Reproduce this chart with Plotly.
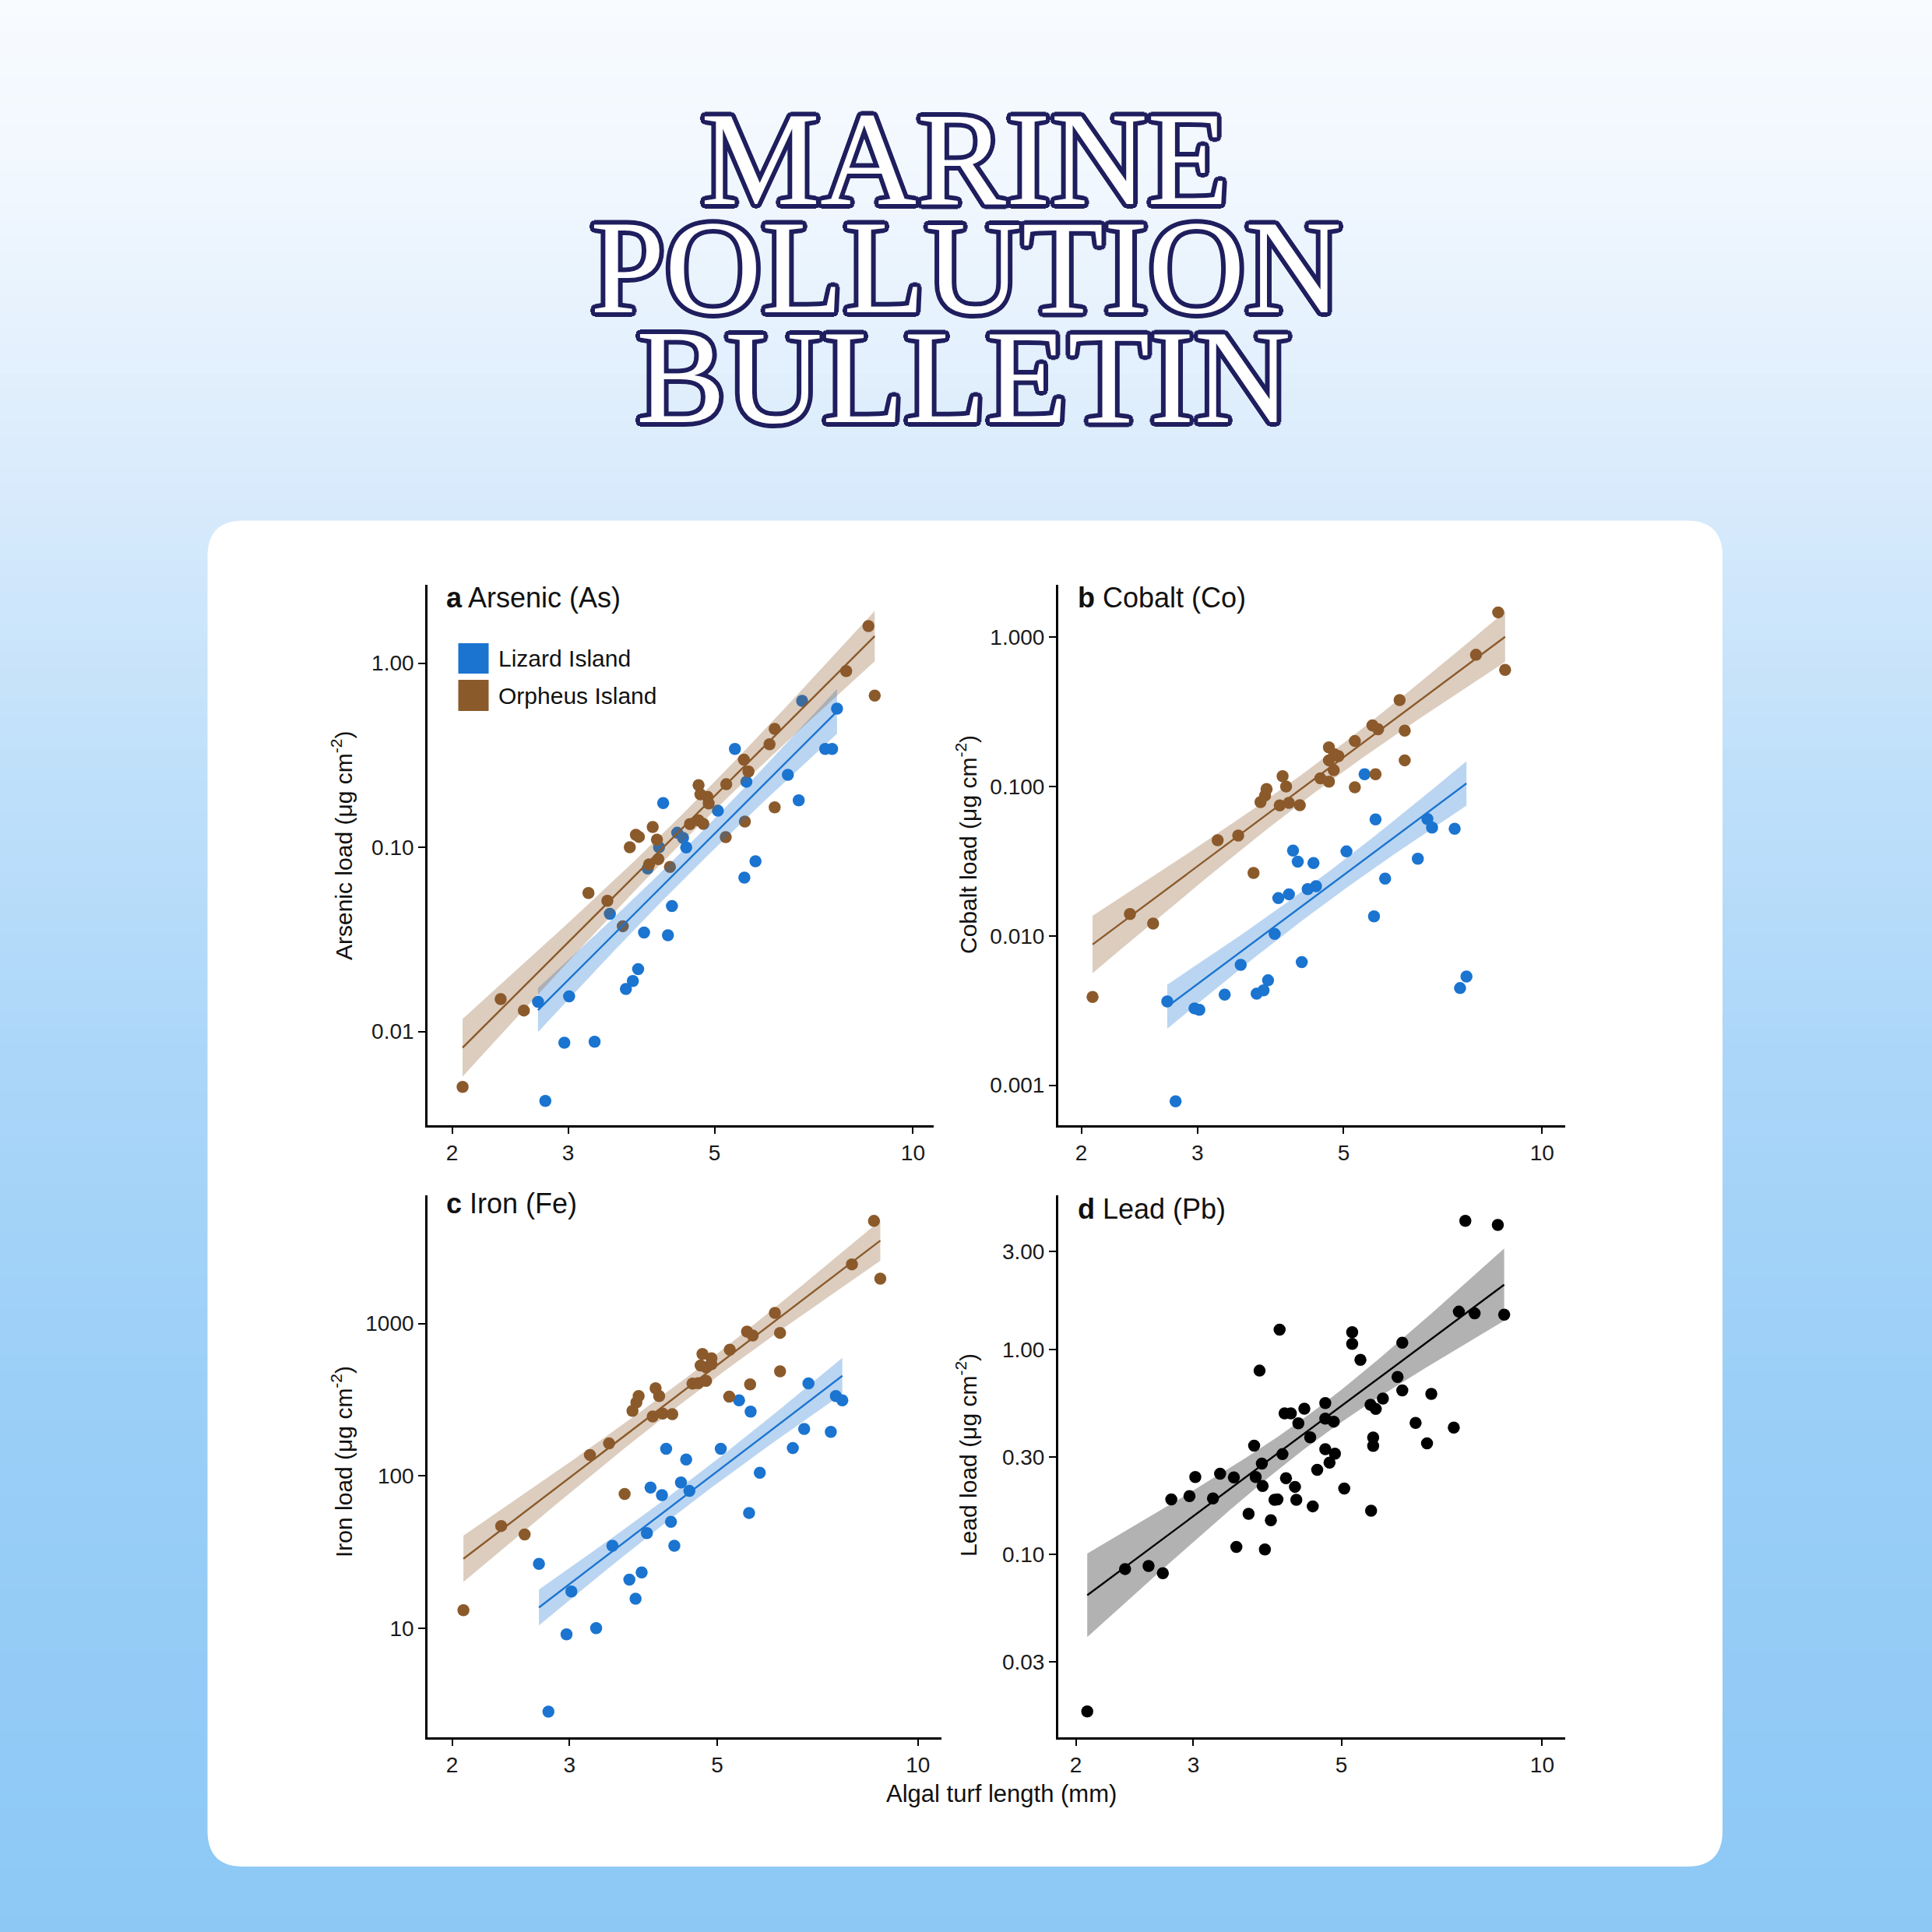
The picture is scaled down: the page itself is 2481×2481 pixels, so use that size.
import numpy as np
import plotly.graph_objects as go

# ---------------- data ----------------
as_liz_x = [2.70, 2.77, 2.96, 3.01, 3.29, 3.47, 3.67, 3.76, 3.83, 3.91, 3.96, 4.12, 4.18, 4.25, 4.31,
            4.39, 4.48, 4.53, 5.06, 5.37, 5.55, 5.59, 5.77, 6.46, 6.71, 6.79, 7.36, 7.54, 7.67]
as_liz_y = [0.0145, 0.0042, 0.0087, 0.0155, 0.0088, 0.0435, 0.0170, 0.0188, 0.0218, 0.0345, 0.0768, 0.100,
            0.174, 0.0333, 0.0480, 0.120, 0.1125, 0.0998, 0.158, 0.342, 0.0685, 0.227, 0.084, 0.2475,
            0.180, 0.624, 0.342, 0.342, 0.566]
as_orp_x = [2.075, 2.37, 2.57, 3.22, 3.44, 3.63, 3.72, 3.80, 3.84, 4.03, 4.09, 4.11, 3.98, 4.28, 4.59,
            4.73, 4.81, 4.73, 4.76, 4.88, 4.90, 5.20, 5.21, 5.54, 5.63, 5.56, 6.06, 6.17, 6.17, 7.92,
            8.56, 8.75]
as_orp_y = [0.0050, 0.0150, 0.0130, 0.0565, 0.0513, 0.0373, 0.100, 0.117, 0.114, 0.129, 0.110, 0.0863,
            0.0808, 0.0782, 0.1336, 0.140, 0.134, 0.2175, 0.194, 0.188, 0.173, 0.1136, 0.220, 0.299,
            0.258, 0.138, 0.363, 0.440, 0.165, 0.906, 1.59, 0.667]

co_liz_x = [2.70, 2.78, 2.97, 3.02, 3.30, 3.49, 3.69, 3.78, 3.84, 3.93, 3.98, 4.13, 4.19, 4.26, 4.32,
            4.41, 4.50, 4.54, 5.05, 5.38, 5.56, 5.59, 5.78, 6.48, 6.70, 6.81, 7.37, 7.51, 7.68]
co_liz_y = [0.00364, 0.00078, 0.00327, 0.0032, 0.00404, 0.0064, 0.0041, 0.00432, 0.00504, 0.0103,
            0.0179, 0.019, 0.0373, 0.0314, 0.00667, 0.0206, 0.0308, 0.0215, 0.0368, 0.121, 0.01353,
            0.0603, 0.0242, 0.0329, 0.0607, 0.0532, 0.0522, 0.00447, 0.00535]
co_orp_x = [2.08, 2.37, 2.57, 3.22, 3.46, 3.65, 3.74, 3.80, 3.82, 4.00, 4.04, 4.09, 4.13, 4.29, 4.61,
            4.75, 4.75, 4.75, 4.83, 4.84, 4.91, 5.20, 5.20, 5.53, 5.59, 5.64, 6.08, 6.19, 6.19, 7.94,
            8.58, 8.79]
co_orp_y = [0.0039, 0.0140, 0.0121, 0.0437, 0.0470, 0.0264, 0.0788, 0.0871, 0.0963, 0.0748, 0.1176,
            0.1002, 0.0779, 0.0751, 0.1135, 0.108, 0.183, 0.150, 0.129, 0.165, 0.160, 0.202, 0.099,
            0.257, 0.121, 0.242, 0.380, 0.237, 0.150, 0.764, 1.47, 0.605]

fe_liz_x = [2.70, 2.79, 2.97, 3.02, 3.29, 3.48, 3.69, 3.77, 3.85, 3.92, 3.97, 4.13, 4.19, 4.26, 4.31,
            4.41, 4.49, 4.54, 5.06, 5.39, 5.58, 5.61, 5.79, 6.49, 6.75, 6.85, 7.40, 7.53, 7.70]
fe_liz_y = [26.4, 2.83, 9.09, 17.4, 10.0, 34.7, 20.8, 15.6, 23.2, 42.0, 83.6, 74.6, 150.5, 49.9, 34.7,
            90.3, 128, 79.5, 150.5, 313, 57, 264, 104.6, 152, 203, 404, 194, 334, 313]
fe_orp_x = [2.08, 2.37, 2.57, 3.22, 3.44, 3.63, 3.73, 3.78, 3.81, 4.00, 4.04, 4.09, 4.14, 4.28, 4.59,
            4.68, 4.72, 4.75, 4.81, 4.81, 4.90, 4.90, 5.21, 5.22, 5.54, 5.60, 5.65, 6.10, 6.21, 6.21,
            7.96, 8.59, 8.78]
fe_orp_y = [13.1, 46.8, 41.2, 137, 163, 76, 267, 303, 334, 245, 375, 334, 256, 254, 403, 405, 530, 630,
            515, 420, 590, 540, 331, 672, 884, 398, 833, 1172, 867, 485, 2443, 4710, 1967]

pb_x = [2.08, 2.37, 2.57, 2.70, 2.78, 2.96, 3.02, 3.21, 3.29, 3.45, 3.48, 3.63, 3.70, 3.72, 3.77,
        3.80, 3.81, 3.84, 3.92, 3.97, 4.01, 4.04, 4.08, 4.11, 4.20, 4.13, 4.26, 4.28, 4.31, 4.40,
        4.49, 4.53, 4.60, 4.73, 4.73, 4.87, 4.73, 4.89, 4.80, 5.05, 5.19, 5.19, 5.34, 5.53, 5.63,
        5.77, 5.58, 5.58, 5.54, 6.07, 6.17, 6.17, 6.46, 6.72, 6.82, 7.37, 7.50, 7.67, 7.92, 8.58, 8.77]
pb_y = [0.0172, 0.0851, 0.088, 0.0812, 0.186, 0.193, 0.239, 0.188, 0.248, 0.238, 0.109, 0.158, 0.340,
        0.239, 0.789, 0.278, 0.216, 0.106, 0.147, 0.185, 0.186, 1.25, 0.309, 0.488, 0.488, 0.236,
        0.214, 0.185, 0.437, 0.5145, 0.373, 0.172, 0.259, 0.5487, 0.4605, 0.445, 0.3267, 0.3107,
        0.281, 0.21, 1.215, 1.066, 0.89, 0.5375, 0.513, 0.5765, 0.3724, 0.339, 0.1637, 0.735, 1.08,
        0.632, 0.4385, 0.349, 0.608, 0.416, 1.53, 4.24, 1.50, 4.05, 1.48]

x_ticks = [2, 3, 5, 10]
x_ticktext = ["2", "3", "5", "10"]
as_ticks, as_ticktext = [0.01, 0.1, 1], ["0.01", "0.10", "1.00"]
co_ticks, co_ticktext = [0.001, 0.01, 0.1, 1], ["0.001", "0.010", "0.100", "1.000"]
fe_ticks, fe_ticktext = [10, 100, 1000], ["10", "100", "1000"]
pb_ticks, pb_ticktext = [0.03, 0.1, 0.3, 1, 3], ["0.03", "0.10", "0.30", "1.00", "3.00"]

groups = ["Lizard Island", "Orpheus Island"]

# ---------------- style ----------------
W = H = 2481
BLUE = "#1A74D0"
BROWN = "#8B5A2B"
BLUE_FILL = "rgba(26,116,208,0.30)"
BROWN_FILL = "rgba(139,90,43,0.30)"
BLACK_FILL = "rgba(0,0,0,0.30)"
SANS = "Liberation Sans, Arial, Helvetica, sans-serif"
NAVY = "#1F1E5E"


def px(x):
    return x / W


def py(y):
    return 1 - y / H


def t975(df):
    z = 1.959964
    g1 = (z ** 3 + z) / 4
    g2 = (5 * z ** 5 + 16 * z ** 3 + 3 * z) / 96
    g3 = (3 * z ** 7 + 19 * z ** 5 + 17 * z ** 3 - 15 * z) / 384
    return z + g1 / df + g2 / df ** 2 + g3 / df ** 3


def gamma_glm_bands(series, n=80):
    """Gamma GLM with log link: log E[y] = island + b*log(x) (common slope,
    pooled dispersion); 95% CI computed on the link scale."""
    G = len(series)
    xs = [np.asarray(s[0], float) for s in series]
    ys = [np.asarray(s[1], float) for s in series]
    x = np.concatenate(xs)
    y = np.concatenate(ys)
    gi = np.concatenate([np.full(len(a), k) for k, a in enumerate(xs)])
    N = len(x)
    X = np.zeros((N, G + 1))
    X[np.arange(N), gi] = 1.0
    X[:, G] = np.log(x)
    beta = np.linalg.lstsq(X, np.log(y), rcond=None)[0]
    for _ in range(300):
        eta = X @ beta
        mu = np.exp(eta)
        z = eta + (y - mu) / mu
        nb_ = np.linalg.lstsq(X, z, rcond=None)[0]
        done = np.max(np.abs(nb_ - beta)) < 1e-11
        beta = nb_
        if done:
            break
    mu = np.exp(X @ beta)
    df = N - (G + 1)
    phi = np.sum(((y - mu) / mu) ** 2) / df
    cov = phi * np.linalg.inv(X.T @ X)
    t = t975(df)
    out = []
    for k, a in enumerate(xs):
        g = np.linspace(np.log(a.min()), np.log(a.max()), n)
        V = np.zeros((n, G + 1))
        V[:, k] = 1.0
        V[:, G] = g
        eta = V @ beta
        se = np.sqrt(np.sum((V @ cov) * V, axis=1))
        out.append((np.exp(g), np.exp(eta), np.exp(eta - t * se), np.exp(eta + t * se)))
    return out


fig = go.Figure()

panels = {
    "a": dict(xd=(549, 1199), yd=(750.6, 1444.5), xr=(0.2638, 1.0314), yr=(-2.507, 0.427),
              yt=as_ticks, ytt=as_ticktext),
    "b": dict(xd=(1358.8, 2010), yd=(750.6, 1444.5), xr=(0.2658, 1.0352), yr=(-3.266, 0.354),
              yt=co_ticks, ytt=co_ticktext),
    "c": dict(xd=(549, 1208.7), yd=(1535, 2230.6), xr=(0.2642, 1.0349), yr=(0.285, 3.841),
              yt=fe_ticks, ytt=fe_ticktext),
    "d": dict(xd=(1358.8, 2010), yd=(1535, 2230.6), xr=(0.2744, 1.0345), yr=(-1.889, 0.7517),
              yt=pb_ticks, ytt=pb_ticktext),
}
axid = {"a": ("x", "y"), "b": ("x2", "y2"), "c": ("x3", "y3"), "d": ("x4", "y4")}

panel_data = {
    "a": [(as_liz_x, as_liz_y, BLUE, BLUE_FILL), (as_orp_x, as_orp_y, BROWN, BROWN_FILL)],
    "b": [(co_liz_x, co_liz_y, BLUE, BLUE_FILL), (co_orp_x, co_orp_y, BROWN, BROWN_FILL)],
    "c": [(fe_liz_x, fe_liz_y, BLUE, BLUE_FILL), (fe_orp_x, fe_orp_y, BROWN, BROWN_FILL)],
    "d": [(pb_x, pb_y, "#000000", BLACK_FILL)],
}

for key, series in panel_data.items():
    xa, ya = axid[key]
    for (sx, sy, col, fcol) in series:
        fig.add_trace(go.Scatter(x=sx, y=sy, mode="markers", xaxis=xa, yaxis=ya,
                                 marker=dict(color=col, size=15.5, line=dict(width=0)),
                                 showlegend=False, hoverinfo="x+y"))
    fits = gamma_glm_bands(series)
    for (sx, sy, col, fcol), (gx, fit, lo, hi) in zip(series, fits):
        fig.add_trace(go.Scatter(x=np.concatenate([gx, gx[::-1]]),
                                 y=np.concatenate([hi, lo[::-1]]),
                                 mode="lines", fill="toself", fillcolor=fcol,
                                 line=dict(width=0), xaxis=xa, yaxis=ya,
                                 showlegend=False, hoverinfo="skip"))
        fig.add_trace(go.Scatter(x=gx, y=fit, mode="lines", line=dict(color=col, width=2.4),
                                 xaxis=xa, yaxis=ya, showlegend=False, hoverinfo="skip"))

layout_axes = {}
for i, (key, p) in enumerate(panels.items()):
    sfx = "" if i == 0 else str(i + 1)
    common = dict(type="log", showgrid=False, zeroline=False, showline=True, linecolor="#000000",
                  linewidth=2.6, ticks="outside", ticklen=9, tickwidth=2.4, tickcolor="#000000",
                  tickfont=dict(family=SANS, size=28, color="#1a1a1a"), mirror=False)
    layout_axes["xaxis" + sfx] = dict(common, domain=[px(p["xd"][0]), px(p["xd"][1])],
                                      range=list(p["xr"]), tickvals=x_ticks, ticktext=x_ticktext,
                                      anchor="y" + sfx)
    layout_axes["yaxis" + sfx] = dict(common, domain=[py(p["yd"][1]), py(p["yd"][0])],
                                      range=list(p["yr"]), tickvals=p["yt"], ticktext=p["ytt"],
                                      anchor="x" + sfx)

# ---------------- background: gradient + white card ----------------
shapes = []
stops_f = [0.0, 0.10, 0.22, 0.38, 0.55, 0.75, 1.0]
stops_c = [(248, 251, 255), (240, 247, 254), (222, 237, 252), (194, 225, 250), (171, 214, 249),
           (153, 206, 247), (141, 200, 245)]
nb = 124
for k in range(nb):
    f = (k + 0.5) / nb
    c = [int(round(np.interp(f, stops_f, [s[j] for s in stops_c]))) for j in range(3)]
    shapes.append(dict(type="rect", xref="paper", yref="paper", x0=0, x1=1,
                       y0=1 - (k + 1) / nb - 0.001, y1=1 - k / nb,
                       fillcolor="rgb(%d,%d,%d)" % tuple(c), line=dict(width=0), layer="below"))

cl, cr, ct, cb, rad = 266.5, 2212, 668.5, 2397, 46
path = ("M {l},{t1} Q {l},{t} {l1},{t} L {r1},{t} Q {r},{t} {r},{t1} L {r},{b1} "
        "Q {r},{b} {r1},{b} L {l1},{b} Q {l},{b} {l},{b1} Z").format(
    l=px(cl), r=px(cr), t=py(ct), b=py(cb), l1=px(cl + rad), r1=px(cr - rad),
    t1=py(ct + rad), b1=py(cb - rad))
shapes.append(dict(type="path", xref="paper", yref="paper", path=path, fillcolor="#FFFFFF",
                   line=dict(width=0), layer="below"))

leg_items = [(groups[0], BLUE, 826, 865), (groups[1], BROWN, 873, 913)]
for name, col, y0, y1 in leg_items:
    shapes.append(dict(type="rect", xref="paper", yref="paper", x0=px(588.5), x1=px(627.5),
                       y0=py(y1), y1=py(y0), fillcolor=col, line=dict(width=0), layer="above"))

# ---------------- text ----------------
ann = []
o = 6
outline = ", ".join("%dpx %dpx 0 %s" % (dx, dy, NAVY) for dx, dy in
                    [(o, 0), (-o, 0), (0, o), (0, -o), (4, 4), (-4, -4), (4, -4), (-4, 4),
                     (3, o - 1), (-3, o - 1), (3, 1 - o), (-3, 1 - o), (o - 1, 3), (1 - o, 3),
                     (o - 1, -3), (1 - o, -3)])
for txt, cx, cy in [("MARINE", 1239, 204), ("POLLUTION", 1240, 343), ("BULLETIN", 1237, 484)]:
    ann.append(dict(text=txt, x=px(cx), y=py(cy), xref="paper", yref="paper", showarrow=False,
                    xanchor="center", yanchor="middle",
                    font=dict(family="Liberation Serif, Times New Roman, serif", size=172,
                              color="#FFFFFF", shadow=outline)))

titles = [("<b>a</b> Arsenic (As)", 571, 767), ("<b>b</b> Cobalt (Co)", 1382, 767),
          ("<b>c</b> Iron (Fe)", 571, 1545), ("<b>d</b> Lead (Pb)", 1382, 1552)]
for txt, x, y in titles:
    ann.append(dict(text=txt, x=px(x), y=py(y), xref="paper", yref="paper", showarrow=False,
                    xanchor="left", yanchor="middle", font=dict(family=SANS, size=36, color="#111111")))

ytitles = [("Arsenic load (μg cm<sup>-2</sup>)", 439, 1086),
           ("Cobalt load (μg cm<sup>-2</sup>)", 1241, 1085),
           ("Iron load (μg cm<sup>-2</sup>)", 439, 1877),
           ("Lead load (μg cm<sup>-2</sup>)", 1241, 1869)]
for txt, x, y in ytitles:
    ann.append(dict(text=txt, x=px(x), y=py(y), xref="paper", yref="paper", showarrow=False,
                    textangle=-90, xanchor="center", yanchor="middle",
                    font=dict(family=SANS, size=30, color="#111111")))

ann.append(dict(text="Algal turf length (mm)", x=px(1286), y=py(2303), xref="paper", yref="paper",
                showarrow=False, xanchor="center", yanchor="middle",
                font=dict(family=SANS, size=31, color="#111111")))

for name, col, y0, y1 in leg_items:
    ann.append(dict(text=name, x=px(638), y=py((y0 + y1) / 2), xref="paper", yref="paper",
                    showarrow=False, xanchor="left", yanchor="middle",
                    font=dict(family=SANS, size=30, color="#111111")))

fig.update_layout(width=W, height=H, margin=dict(l=0, r=0, t=0, b=0),
                  paper_bgcolor="#FFFFFF", plot_bgcolor="rgba(0,0,0,0)",
                  shapes=shapes, annotations=ann, showlegend=False, **layout_axes)

fig.write_html("out.html", config={"displayModeBar": False},
               post_script="document.body.style.margin='0';document.body.style.padding='0';"
                           "document.body.style.overflow='hidden';")
